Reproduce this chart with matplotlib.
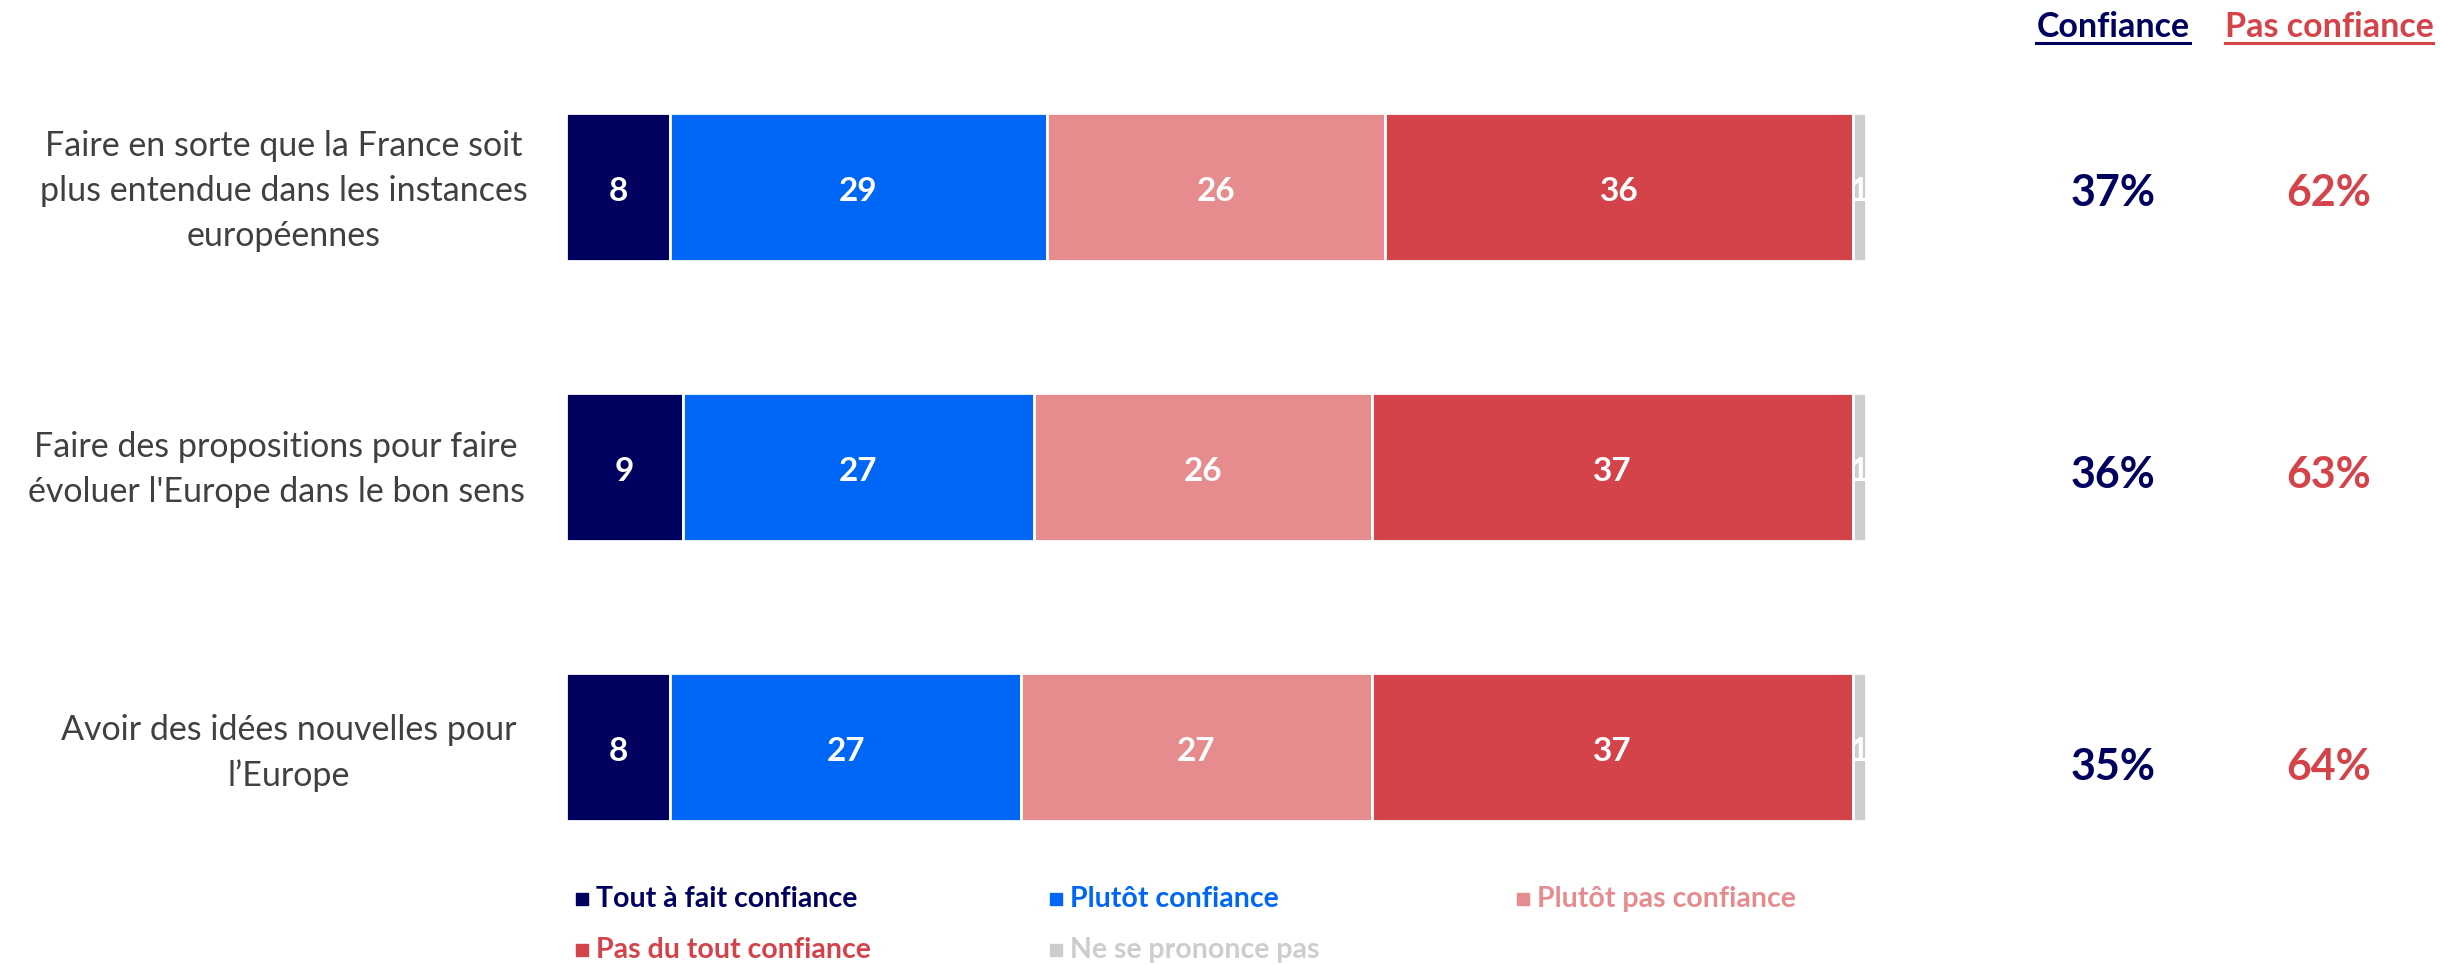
import numpy as np
import matplotlib
matplotlib.use("Agg")
import matplotlib.pyplot as plt
from matplotlib.patches import Rectangle
from matplotlib.lines import Line2D

plt.rcParams['font.family'] = ['Lato', 'DejaVu Sans']

items = [
    "Faire en sorte que la France soit\nplus entendue dans les instances\neuropéennes",
    "Faire des propositions pour faire\névoluer l'Europe dans le bon sens",
    "Avoir des idées nouvelles pour\nl\u2019Europe",
]
categories = ["Tout à fait confiance", "Plutôt confiance", "Plutôt pas confiance",
              "Pas du tout confiance", "Ne se prononce pas"]
tout_a_fait = [8, 9, 8]
plutot = [29, 27, 27]
plutot_pas = [26, 26, 27]
pas_du_tout = [36, 37, 37]
nsp = [1, 1, 1]
confiance = [37, 36, 35]
pas_confiance = [62, 63, 64]

colors = ["#00005F", "#0066F5", "#E68C8F", "#D5434A", "#CDCDCD"]
navy = colors[0]
red = colors[3]

W, H = 2440, 965
fig = plt.figure(figsize=(W / 100, H / 100), dpi=100)

# bar axes: 100 units = 1300 px starting at x=566
ax = fig.add_axes([566 / W, 0, 1300 / W, 1])
ax.set_xlim(0, 100)
row_px = 280
top_px = 187
ax.set_ylim((H - top_px) / row_px, -top_px / row_px)
ax.axis('off')

series = [tout_a_fait, plutot, plutot_pas, pas_du_tout, nsp]
ypos = np.arange(len(items))
left = np.zeros(len(items))
for vals, col in zip(series, colors):
    vals = np.array(vals)
    ax.barh(ypos, vals, left=left, height=0.53, color=col, edgecolor='white', linewidth=2)
    for y, l, v in zip(ypos, left, vals):
        ax.text(l + v / 2, y + 0.015, str(v), ha='center', va='center', color='white',
                fontsize=24, fontweight='bold')
    left += vals

# item labels
label_dy = [0.015, 0.008, 0.02]
label_x = [-21.7, -22.3, -21.3]
for y, lab, dy, lx in zip(ypos, items, label_dy, label_x):
    ax.text(lx, y + dy, lab, ha='center', va='center', fontsize=24.5, color='#404040',
            linespacing=1.5, clip_on=False)

# totals
pct_dy = [0.02, 0.03, 0.07]
for y, c, p, dy in zip(ypos, confiance, pas_confiance, pct_dy):
    ax.text(119, y + dy, f"{c}%", ha='center', va='center', color=navy,
            fontsize=31, fontweight='bold', clip_on=False)
    ax.text(135.6, y + dy, f"{p}%", ha='center', va='center', color=red,
            fontsize=31, fontweight='bold', clip_on=False)

# headers with underline
h1 = fig.text(2113 / W, 1 - 27 / H, "Confiance", ha='center', va='center',
              color=navy, fontsize=24.5, fontweight='bold')
h2 = fig.text(2329 / W, 1 - 27 / H, "Pas confiance", ha='center', va='center',
              color=red, fontsize=24.5, fontweight='bold')
fig.canvas.draw()
r = fig.canvas.get_renderer()
for t, col in [(h1, navy), (h2, red)]:
    bb = t.get_window_extent(r)
    yl = (H - 43) / H
    fig.add_artist(Line2D([bb.x0 / W, bb.x1 / W], [yl, yl], transform=fig.transFigure,
                          color=col, linewidth=2.2))

# legend
leg_x = [576, 1050, 1517, 576, 1050]
leg_y = [899, 899, 899, 950, 950]
for lab, col, x, y in zip(categories, colors, leg_x, leg_y):
    s = 12
    fig.add_artist(Rectangle((x / W, 1 - (y + s / 2) / H), s / W, s / H,
                             transform=fig.transFigure, color=col))
    fig.text((x + 20) / W, 1 - y / H, lab, ha='left', va='center', color=col,
             fontsize=20.5, fontweight='bold')

fig.savefig("out.png", dpi=100)
